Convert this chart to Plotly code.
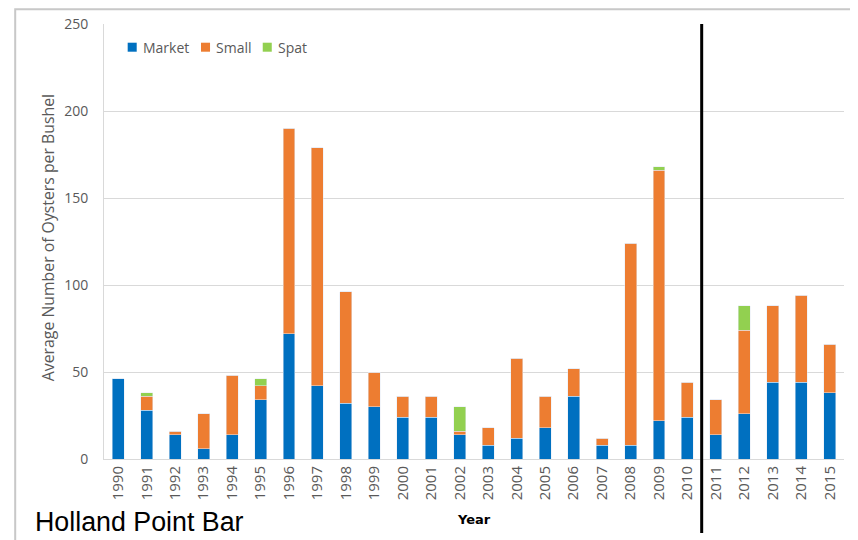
import plotly.graph_objects as go

years = [str(y) for y in range(1990, 2016)]
market = [46, 28, 14, 6, 14, 34, 72, 42, 32, 30, 24, 24, 14, 8, 12, 18, 36, 8, 8, 22, 24,
          14, 26, 44, 44, 38]
small = [0, 8, 2, 20, 34, 8, 118, 137, 64, 20, 12, 12, 2, 10, 46, 18, 16, 4, 116, 144, 20,
         20, 48, 44, 50, 28]
spat = [0, 2, 0, 0, 0, 4, 0, 0, 0, 0, 0, 0, 14, 0, 0, 0, 0, 0, 0, 2, 0,
        0, 14, 0, 0, 0]
series = [("Market", market, "#0070C0"), ("Small", small, "#ED7D31"), ("Spat", spat, "#92D050")]

grey = "#595959"
font = "Open Sans"

fig = go.Figure()
for name, vals, col in series:
    fig.add_trace(go.Bar(x=years, y=vals, name=name, marker_color=col, showlegend=False))

# the page body adds 8px, so margins are shifted to compensate
fig.update_layout(
    barmode="stack",
    bargap=0.58,
    width=858, height=540,
    margin=dict(l=96, r=22, t=16, b=89),
    plot_bgcolor="white", paper_bgcolor="white",
    font=dict(family=font, size=14, color=grey),
)

fig.update_yaxes(range=[0, 250], dtick=50, showgrid=True, gridcolor="#d9d9d9",
                 showline=True, linecolor="#d9d9d9", zeroline=False, automargin=False,
                 tickfont=dict(size=14, color=grey), ticklabelstandoff=12)
fig.update_xaxes(showline=True, linecolor="#d9d9d9", tickangle=-90, automargin=False,
                 tickfont=dict(size=15, color=grey), ticklabelstandoff=0)

# legend drawn by hand so the spacing is as tight as the original
leg_x = [0.032, 0.1311, 0.2145]
for (name, vals, col), lx in zip(series, leg_x):
    fig.add_shape(type="rect", xref="paper", yref="paper", x0=lx, x1=lx + 0.0122,
                  y0=0.9363, y1=0.957, fillcolor=col, line_width=0)
    fig.add_annotation(text=name, xref="paper", yref="paper", x=lx + 0.018, y=0.947,
                       xanchor="left", yanchor="middle", showarrow=False,
                       font=dict(size=14, color=grey))

# divider between 2010 and 2011
fig.add_shape(type="line", xref="x", yref="paper", x0=20.5, x1=20.5, y0=1.0, y1=-0.17,
              line=dict(color="black", width=3))
# outer chart border (top and left)
fig.add_shape(type="path", xref="paper", yref="paper",
              path="M -0.12,-0.25 L -0.12,1.034 L 1.05,1.034",
              line=dict(color="#c8c8c8", width=2))

fig.add_annotation(text="Average Number of Oysters per Bushel", xref="paper", yref="paper",
                   x=-0.0757, y=0.51, textangle=-90, showarrow=False,
                   xanchor="center", yanchor="middle", font=dict(size=15.8, color=grey))
fig.add_annotation(text="<b>Year</b>", xref="paper", yref="paper", x=0.5, y=-0.138,
                   xanchor="center", yanchor="middle", showarrow=False,
                   font=dict(size=13, color="black", family="DejaVu Sans"))
fig.add_annotation(text="Holland Point Bar", xref="paper", yref="paper", x=-0.096, y=-0.145,
                   xanchor="left", yanchor="middle", showarrow=False,
                   font=dict(size=26.8, color="black", family="Liberation Sans"))

fig.write_html("out.html")
